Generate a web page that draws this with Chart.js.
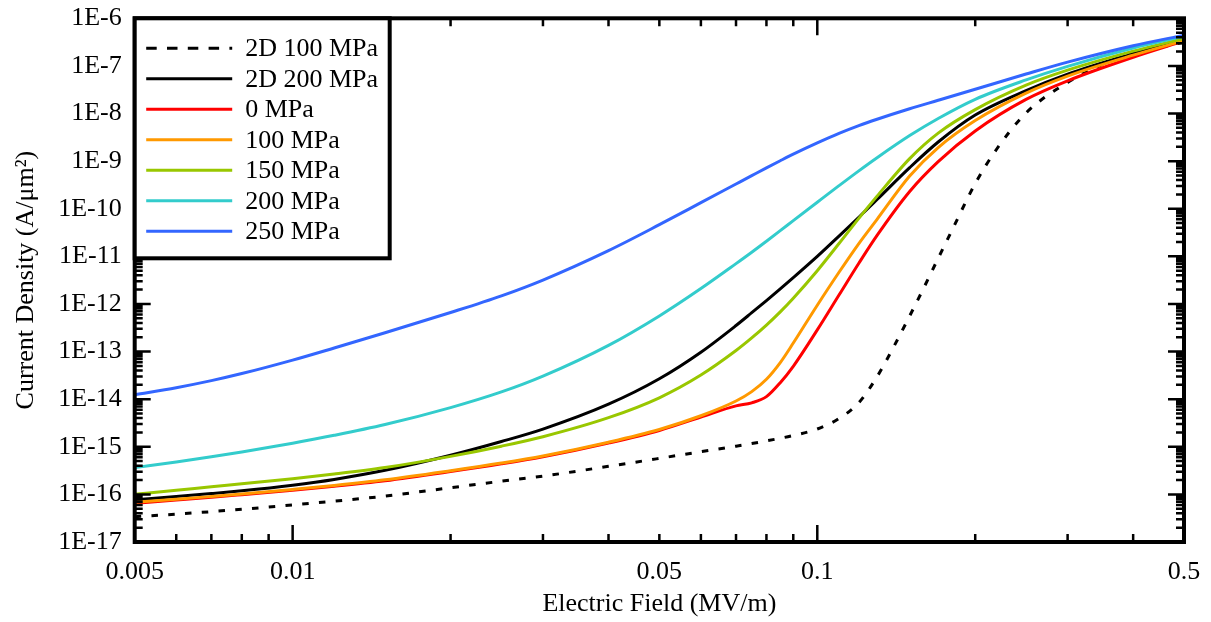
<!DOCTYPE html>
<html><head><meta charset="utf-8">
<script src="https://cdn.jsdelivr.net/npm/chart.js@4.4.1/dist/chart.umd.min.js"></script>
<style>html,body{margin:0;padding:0;background:#fff;overflow:hidden;} canvas{display:block;}</style>
</head><body>
<canvas id="c" width="1211" height="622"></canvas>
<script>
const FONT = "'Liberation Serif','Times New Roman',serif";

// Electric field (MV/m) sample points
const fieldX = [0.005, 0.006, 0.007, 0.008, 0.01, 0.012, 0.015, 0.02, 0.025, 0.03, 0.04, 0.05, 0.06, 0.07, 0.075, 0.08, 0.085, 0.09, 0.1, 0.11, 0.12, 0.13, 0.15, 0.17, 0.2, 0.25, 0.3, 0.4, 0.5];
const fieldX2D100 = [0.005, 0.006, 0.007, 0.008, 0.01, 0.012, 0.015, 0.02, 0.025, 0.03, 0.04, 0.05, 0.06, 0.07, 0.08, 0.09, 0.1, 0.11, 0.12, 0.13, 0.14, 0.15, 0.16, 0.17, 0.18, 0.2, 0.22, 0.25, 0.3, 0.35, 0.4, 0.5];

// Current density (A/um^2)
const j2D100 = [3.41e-17, 3.85e-17, 4.34e-17, 4.87e-17, 6.0e-17, 7.2e-17, 9.2e-17, 1.38e-16, 1.89e-16, 2.42e-16, 3.88e-16, 5.71e-16, 7.88e-16, 1.03e-15, 1.33e-15, 1.73e-15, 2.36e-15, 3.92e-15, 8.47e-15, 2.96e-14, 1.29e-13, 5.58e-13, 2.31e-12, 9.12e-12, 3.27e-11, 3.38e-10, 1.82e-9, 1.03e-8, 4.5e-8, 1.08e-7, 1.81e-7, 3.15e-7];
const j2D200 = [7.74e-17, 9.03e-17, 1.04e-16, 1.19e-16, 1.56e-16, 2.06e-16, 3.2e-16, 6.63e-16, 1.29e-15, 2.35e-15, 7.84e-15, 2.68e-14, 9.68e-14, 3.52e-13, 6.55e-13, 1.18e-12, 2.08e-12, 3.58e-12, 1.0e-11, 2.67e-11, 6.63e-11, 1.56e-10, 7.29e-10, 2.52e-9, 9.28e-9, 3.02e-8, 6.71e-8, 1.81e-7, 3.64e-7];
const j0 = [6.5e-17, 7.59e-17, 8.68e-17, 9.84e-17, 1.22e-16, 1.48e-16, 1.94e-16, 3.02e-16, 4.38e-16, 6.17e-16, 1.2e-15, 2.2e-15, 4.21e-15, 7.22e-15, 8.38e-15, 1.13e-14, 2.22e-14, 4.91e-14, 2.85e-13, 1.54e-12, 7.17e-12, 2.76e-11, 2.31e-10, 9.79e-10, 4.31e-9, 1.98e-8, 4.86e-8, 1.52e-7, 3.34e-7];
const j100 = [6.8e-17, 7.88e-17, 9.03e-17, 1.02e-16, 1.27e-16, 1.54e-16, 2.02e-16, 3.14e-16, 4.55e-16, 6.41e-16, 1.25e-15, 2.31e-15, 4.48e-15, 9.14e-15, 1.44e-14, 2.62e-14, 5.87e-14, 1.51e-13, 9.4e-13, 4.63e-12, 1.86e-11, 6.0e-11, 4.87e-10, 1.93e-9, 7.12e-9, 2.68e-8, 6.1e-8, 1.68e-7, 3.42e-7];
const j150 = [1.01e-16, 1.22e-16, 1.45e-16, 1.67e-16, 2.14e-16, 2.67e-16, 3.66e-16, 6.29e-16, 1.03e-15, 1.63e-15, 4.09e-15, 1.07e-14, 3.21e-14, 1.05e-13, 1.93e-13, 3.59e-13, 6.8e-13, 1.32e-12, 5.0e-12, 1.86e-11, 6.29e-11, 1.84e-10, 1.13e-9, 3.88e-9, 1.21e-8, 3.95e-8, 8.14e-8, 2.04e-7, 3.78e-7];
const j200 = [3.65e-16, 4.78e-16, 6.17e-16, 7.8e-16, 1.19e-15, 1.74e-15, 2.93e-15, 6.65e-15, 1.42e-14, 3.05e-14, 1.35e-13, 5.61e-13, 2.11e-12, 7.03e-12, 1.22e-11, 2.08e-11, 3.46e-11, 5.63e-11, 1.37e-10, 3.05e-10, 6.25e-10, 1.18e-9, 3.44e-9, 7.87e-9, 1.99e-8, 5.08e-8, 9.8e-8, 2.38e-7, 4.18e-7];
const j250 = [1.24e-14, 1.74e-14, 2.45e-14, 3.45e-14, 6.62e-14, 1.19e-13, 2.48e-13, 6.61e-13, 1.48e-12, 3.18e-12, 1.32e-11, 4.62e-11, 1.34e-10, 3.31e-10, 4.96e-10, 7.23e-10, 1.02e-9, 1.4e-9, 2.41e-9, 3.82e-9, 5.57e-9, 7.58e-9, 1.26e-8, 1.9e-8, 3.24e-8, 6.75e-8, 1.2e-7, 2.65e-7, 4.43e-7];

const seriesLabels = ['2D 100 MPa', '2D 200 MPa', '0 MPa', '100 MPa', '150 MPa', '200 MPa', '250 MPa'];

// Axis tick labels
const xTickVals = [0.005, 0.01, 0.05, 0.1, 0.5];
const xTickText = ['0.005', '0.01', '0.05', '0.1', '0.5'];
const yTickVals = [1e-17, 1e-16, 1e-15, 1e-14, 1e-13, 1e-12, 1e-11, 1e-10, 1e-9, 1e-8, 1e-7, 1e-6];
const yTickText = ['1E-17', '1E-16', '1E-15', '1E-14', '1E-13', '1E-12', '1E-11', '1E-10', '1E-9', '1E-8', '1E-7', '1E-6'];

function mk(label, xs, ys, color, dash, legendDash, order) {
  return {
    label, order,
    data: xs.map((x, i) => ({x, y: ys[i]})),
    borderColor: color, backgroundColor: color,
    borderWidth: 3, borderDash: dash || [], legendDash: legendDash || [],
    pointRadius: 0, fill: false, cubicInterpolationMode: 'monotone'
  };
}

const datasets = [
  mk(seriesLabels[0], fieldX2D100, j2D100, '#000000', [6.5, 10.3], [10.5, 10.3], 7),
  mk(seriesLabels[1], fieldX, j2D200, '#000000', null, null, 6),
  mk(seriesLabels[2], fieldX, j0, '#ff0000', null, null, 5),
  mk(seriesLabels[3], fieldX, j100, '#ff9900', null, null, 4),
  mk(seriesLabels[4], fieldX, j150, '#99c700', null, null, 3),
  mk(seriesLabels[5], fieldX, j200, '#33cccc', null, null, 2),
  mk(seriesLabels[6], fieldX, j250, '#3366ff', null, null, 1)
];

const frameTicks = {
  id: 'frameTicks',
  afterDatasetsDraw(chart) {
    const {ctx, chartArea: a, scales: {x, y}} = chart;
    ctx.save();
    ctx.strokeStyle = '#000';
    ctx.lineWidth = 2.5;
    ctx.beginPath();
    for (let e = -3; e <= 0; e++) for (let m = 1; m <= 9; m++) {
      const v = m * Math.pow(10, e);
      if (v < x.min * 0.9999 || v > x.max * 1.0001) continue;
      const px = x.getPixelForValue(v);
      const len = m === 1 ? 17 : 8;
      ctx.moveTo(px, a.bottom); ctx.lineTo(px, a.bottom - len);
      ctx.moveTo(px, a.top); ctx.lineTo(px, a.top + len);
    }
    for (let e = -17; e <= -6; e++) for (let m = 1; m <= 9; m++) {
      const v = m * Math.pow(10, e);
      if (v > y.max * 1.0001) continue;
      const py = y.getPixelForValue(v);
      const len = m === 1 ? 16 : 8;
      ctx.moveTo(a.left, py); ctx.lineTo(a.left + len, py);
      ctx.moveTo(a.right, py); ctx.lineTo(a.right - len, py);
    }
    ctx.stroke();
    ctx.lineWidth = 4;
    ctx.strokeRect(a.left, a.top, a.right - a.left, a.bottom - a.top);
    ctx.restore();
  }
};

const boxLegend = {
  id: 'boxLegend',
  afterDraw(chart) {
    const {ctx, chartArea: a} = chart;
    const x0 = a.left, y0 = a.top, w = 255, h = 240;
    ctx.save();
    ctx.fillStyle = '#fff';
    ctx.fillRect(x0, y0, w, h);
    ctx.lineWidth = 4; ctx.strokeStyle = '#000';
    ctx.strokeRect(x0, y0, w, h);
    ctx.font = '26px ' + FONT;
    ctx.textBaseline = 'middle';
    ctx.textAlign = 'left';
    chart.data.datasets.forEach((ds, i) => {
      const yy = y0 + 30 + i * 30.5;
      ctx.beginPath();
      ctx.setLineDash(ds.legendDash);
      ctx.lineWidth = 3; ctx.strokeStyle = ds.borderColor;
      ctx.moveTo(x0 + 11.5, yy); ctx.lineTo(x0 + 97.5, yy); ctx.stroke();
      ctx.setLineDash([]);
      ctx.fillStyle = '#000';
      ctx.fillText(ds.label, x0 + 110.5, yy + 1);
    });
    ctx.restore();
  }
};

new Chart(document.getElementById('c'), {
  type: 'line',
  data: {datasets},
  options: {
    responsive: false, devicePixelRatio: 1, animation: false,
    layout: {padding: {top: 18.3, right: 27, left: 0, bottom: 0}},
    plugins: {legend: {display: false}, tooltip: {enabled: false}},
    scales: {
      x: {
        type: 'logarithmic', min: 0.005, max: 0.5,
        afterBuildTicks: s => { s.ticks = xTickVals.map(v => ({value: v})); },
        afterFit: s => { s.height = 80; s.paddingLeft = 0; s.paddingRight = 0; },
        grid: {display: false, drawTicks: false}, border: {display: false},
        ticks: {autoSkip: false, maxRotation: 0, minRotation: 0, padding: 15, color: '#000',
          font: {family: FONT, size: 26},
          callback: v => xTickText[xTickVals.indexOf(v)]},
        title: {display: true, text: 'Electric Field (MV/m)', color: '#000',
          font: {family: FONT, size: 26}, padding: {top: 0, bottom: 2}}
      },
      y: {
        type: 'logarithmic', min: 1e-17, max: 1e-6,
        afterBuildTicks: s => { s.ticks = yTickVals.map(v => ({value: v})); },
        afterFit: s => { s.width = 134.7; s.paddingTop = 0; s.paddingBottom = 0; },
        grid: {display: false, drawTicks: false}, border: {display: false},
        ticks: {autoSkip: false, padding: 13, color: '#000',
          font: {family: FONT, size: 26},
          callback: v => yTickText[yTickVals.indexOf(v)]},
        title: {display: true, text: 'Current Density (A/\u03bcm\u00b2)', color: '#000',
          font: {family: FONT, size: 26}, padding: {top: 11, bottom: 0}}
      }
    }
  },
  plugins: [frameTicks, boxLegend]
});
</script>
</body></html>
